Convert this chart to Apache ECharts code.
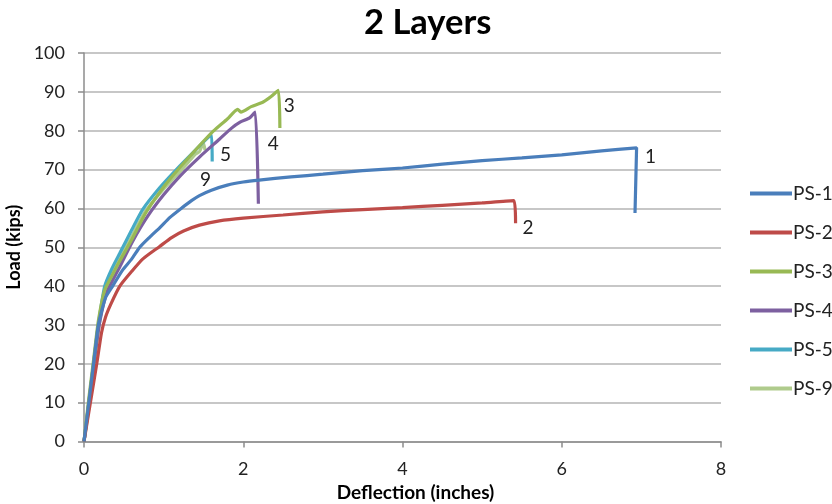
<!DOCTYPE html>
<html>
<head>
<meta charset="utf-8">
<script src="https://cdn.jsdelivr.net/npm/echarts@6/dist/echarts.min.js"></script>
<style>
  html, body { margin: 0; padding: 0; background: #fff; }
  #chart { width: 832px; height: 504px; }
</style>
</head>
<body>
<div id="chart"></div>
<script>
// Load–deflection curves, two-layer specimens: [deflection (in), load (kips)]
const ps1 = [[0,0],[0.06,10],[0.12,20],[0.18,30],[0.27,37],[0.36,40],[0.48,44],[0.6,47],[0.7,50],[0.82,52.5],[0.95,55],[1.08,57.7],[1.22,60],[1.35,62],[1.45,63.3],[1.6,64.7],[1.8,66],[2.0,66.8],[2.2,67.3],[2.6,68.1],[3.0,68.8],[3.5,69.7],[4.0,70.4],[4.5,71.4],[5.0,72.3],[5.5,73.0],[6.0,73.8],[6.5,74.8],[6.94,75.6],[6.92,58.8]];
const ps2 = [[0,0],[0.08,10],[0.16,20],[0.22,28],[0.27,32],[0.34,35.5],[0.45,40],[0.6,43.8],[0.74,47],[0.95,50.2],[1.1,52.5],[1.25,54.2],[1.45,55.7],[1.7,56.8],[2.0,57.5],[2.5,58.3],[3.0,59.1],[3.5,59.7],[4.0,60.2],[4.5,60.8],[5.0,61.4],[5.4,62.0],[5.42,56.2]];
const ps3 = [[0,0],[0.06,11],[0.12,21],[0.18,31],[0.26,39],[0.36,43],[0.45,46.5],[0.6,52],[0.78,59],[1.0,65.5],[1.16,69.5],[1.4,75],[1.62,79.8],[1.8,83],[1.93,85.5],[1.97,84.8],[2.1,86.2],[2.25,87.4],[2.35,88.8],[2.44,90.4],[2.46,80.7]];
const ps4 = [[0,0],[0.07,11],[0.13,21],[0.2,31],[0.29,38.5],[0.45,45],[0.61,51.5],[0.8,58],[1.0,63.5],[1.2,68.2],[1.46,73.4],[1.7,77.8],[1.85,80.6],[1.96,82.2],[2.08,83.3],[2.15,84.8],[2.19,61.2]];
const ps5 = [[0,0],[0.06,10],[0.12,20],[0.18,30],[0.26,40],[0.35,44.5],[0.45,48.5],[0.6,54.5],[0.74,59.8],[0.95,65.3],[1.16,70],[1.4,75],[1.6,79],[1.61,72.1]];
const ps9 = [[0,0],[0.07,10],[0.13,20],[0.19,30],[0.28,39.5],[0.36,43.5],[0.45,47.2],[0.6,52.8],[0.77,59.2],[1.0,65],[1.22,69.8],[1.4,74],[1.45,74.6],[1.5,76.8],[1.52,75]];

const seriesNames = ['PS-1','PS-2','PS-3','PS-4','PS-5','PS-9'];
const seriesData = [ps1, ps2, ps3, ps4, ps5, ps9];
const peakTags = ['1','2','3','4','5','9'];
const colors = ['#4A7EBB','#BE4B48','#98B954','#7D60A0','#46AAC5','#AFCB8C'];
// label offsets (px) from each curve's peak
const tagOffsets = [[14,9],[14,27],[11,16],[18,32],[14,20],[2,37]];

const yTicks = [0,10,20,30,40,50,60,70,80,90,100];
const xTicks = [0,2,4,6,8];

const FONT = 'Lato, "Open Sans", sans-serif';
const chart = echarts.init(document.getElementById('chart'), null, { renderer: 'canvas' });

const series = seriesNames.map((name, i) => ({
  name,
  type: 'line',
  data: seriesData[i],
  showSymbol: false,
  symbol: 'none',
  smooth: 0.2,
  lineStyle: { width: 3.2, color: colors[i] },
  itemStyle: { color: colors[i] },
  z: 10 - i,
  markPoint: {
    symbol: 'circle',
    symbolSize: 0,
    silent: true,
    data: [{ type: 'max' }],
    label: {
      show: true,
      formatter: peakTags[i],
      position: 'inside',
      offset: tagOffsets[i],
      color: '#222',
      fontFamily: FONT,
      fontSize: 19
    }
  }
}));

chart.setOption({
  animation: false,
  backgroundColor: '#fff',
  color: colors,
  title: {
    text: '2 Layers',
    left: 364,
    top: 5,
    padding: 0,
    textStyle: { fontFamily: FONT, fontSize: 34.5, fontWeight: 'bold', color: '#000' }
  },
  legend: {
    orient: 'vertical',
    left: 745,
    top: 177,
    itemWidth: 42,
    itemHeight: 4,
    itemGap: 16,
    icon: 'rect',
    data: seriesNames,
    textStyle: { fontFamily: FONT, fontSize: 19, color: '#222', lineHeight: 23, padding: [0, 0, 0, -4] }
  },
  grid: { left: 84, right: 111, top: 53, bottom: 62.5, containLabel: false, outerBoundsMode: 'none' },
  xAxis: {
    type: 'value',
    min: xTicks[0],
    max: xTicks[xTicks.length - 1],
    interval: 2,
    name: 'Deflection (inches)',
    nameLocation: 'middle',
    nameGap: 40,
    nameTextStyle: { fontFamily: FONT, fontSize: 19, fontWeight: 'bold', color: '#000', padding: [0, 0, 0, 26] },
    axisLine: { show: true, lineStyle: { color: '#8c8c8c', width: 1.5 } },
    axisTick: { show: true, length: 6, lineStyle: { color: '#8c8c8c', width: 1.5 } },
    axisLabel: { fontFamily: FONT, fontSize: 18, color: '#222', margin: 19 },
    splitLine: { show: false }
  },
  yAxis: {
    type: 'value',
    min: yTicks[0],
    max: yTicks[yTicks.length - 1],
    interval: 10,
    name: 'Load (kips)',
    nameLocation: 'middle',
    nameGap: 55,
    nameTextStyle: { fontFamily: FONT, fontSize: 18, fontWeight: 'bold', color: '#000' },
    axisLine: { show: true, lineStyle: { color: '#8c8c8c', width: 1.5 } },
    axisTick: { show: true, length: 6, lineStyle: { color: '#8c8c8c', width: 1.5 } },
    axisLabel: { fontFamily: FONT, fontSize: 18, color: '#222', margin: 19 },
    splitLine: { show: true, lineStyle: { color: '#b4b4b4', width: 1.5 } }
  },
  series
});
</script>
</body>
</html>
